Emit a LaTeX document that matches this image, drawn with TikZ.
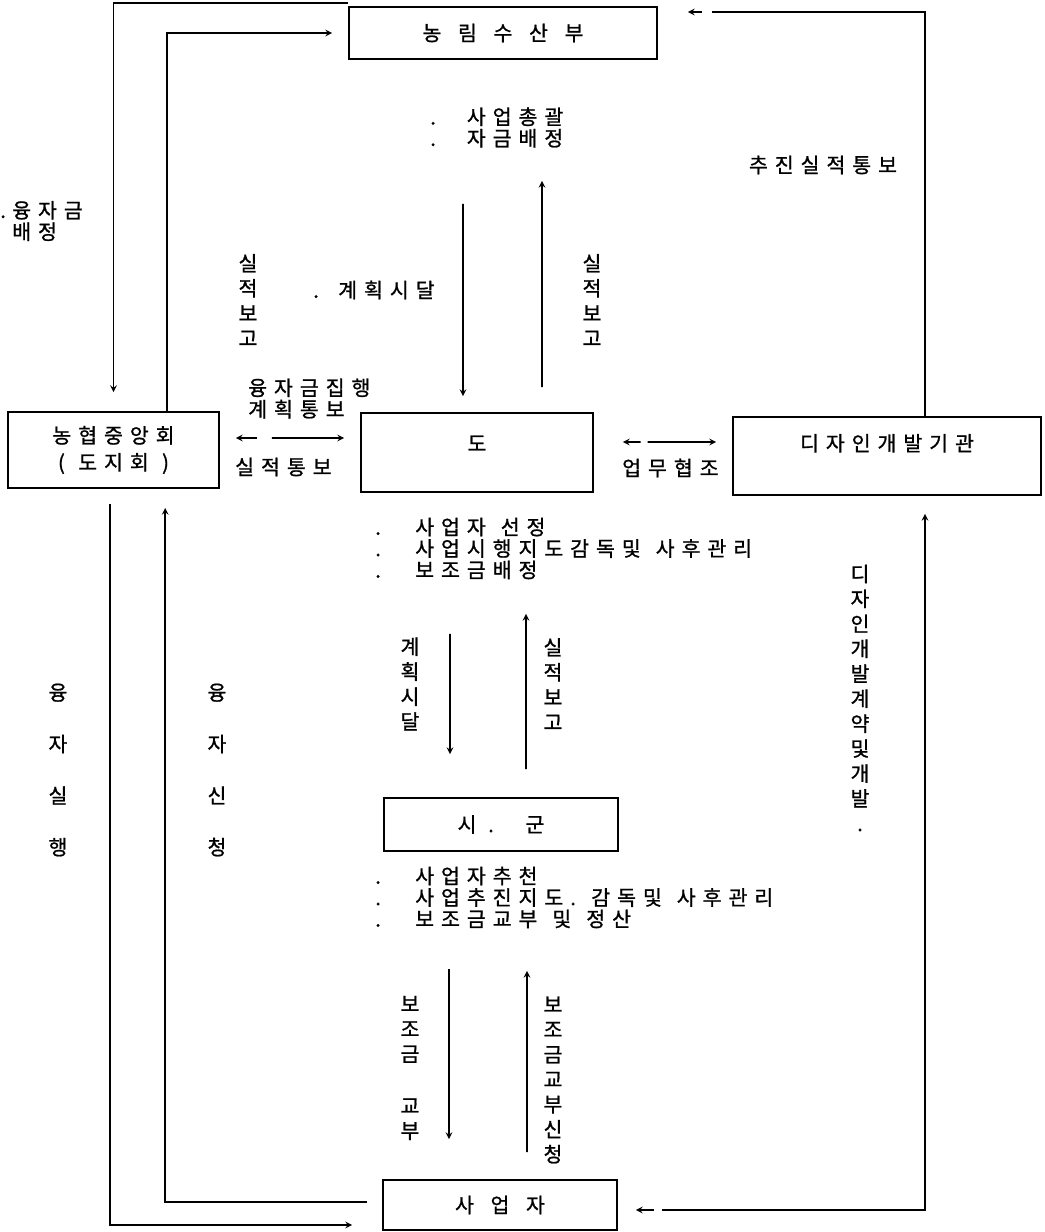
\documentclass[tikz,border=0pt]{standalone}
\usepackage{fontspec}
\setmainfont{Noto Sans CJK KR}[LetterSpace=34, FakeBold=1, Kerning=Off]
\usetikzlibrary{arrows, positioning, calc}
\newcommand{\lbl}{\fontsize{17.5}{18.3}\selectfont}
\newcommand{\blbl}{\fontsize{17.5}{23}\selectfont}
\newcommand{\vlbl}{\fontsize{17.5}{21.3}\selectfont}
\newcommand{\wlbl}{\fontsize{17.5}{44}\selectfont}
\newcommand{\bul}[1]{\makebox[#1][l]{.}}
\newcommand{\bgap}{\hspace{0.5cm}}
\newcommand{\wsp}{\hspace{0.45cm}}

\begin{document}
\begin{tikzpicture}[
    x=0.03cm, y=-0.03cm,
    box/.style={rectangle, draw, line width=1.6pt, inner sep=0pt, align=center, font=\blbl},
    txt/.style={inner sep=0pt, align=left, font=\lbl},
    vtxt/.style={inner sep=0pt, align=center, font=\vlbl},
    wtxt/.style={inner sep=0pt, align=center, font=\wlbl},
    arrow/.style={->, >=stealth, line width=1.5pt}
]
\useasboundingbox (0,0) rectangle (1045,1232);

% Boxes
\node[box, minimum width=9.24cm, minimum height=1.56cm] (ministry) at (503,33) {농\bgap 림\bgap 수\bgap 산\bgap 부};
\node[box, minimum width=6.33cm, minimum height=2.28cm] (nhq) at (113.5,450) {농협중앙회\\(\hspace{0.4cm}도지회\hspace{0.4cm})};
\node[box, minimum width=6.96cm, minimum height=2.37cm, text height=1.14cm, text depth=1.23cm] (dogov) at (477,452.5) {도};
\node[box, minimum width=9.24cm, minimum height=2.34cm, text height=1.02cm, text depth=1.32cm] (design) at (887,456) {디자인개발기관};
\node[box, minimum width=7.02cm, minimum height=1.59cm] (sigun) at (501,824.5) {시\hspace{0.35cm}.\hspace{0.95cm}군};
\node[box, minimum width=7.02cm, minimum height=1.5cm] (bizop) at (500,1205) {사\bgap 업\bgap 자};

% Labels round the ministry
\node[txt, anchor=west] (loanalloc) at (0,221) {\bul{0.36cm}융자금\\\hspace{0.36cm}배정};
\node[txt, anchor=west] (minitems) at (430,127.5) {\bul{1.1cm}사업총괄\\\bul{1.1cm}자금배정};
\node[vtxt] (repleft) at (248,300) {실\\적\\보\\고};
\node[txt, anchor=west] (plandown) at (313,290) {\bul{0.75cm}계획시달};
\node[vtxt] (repright) at (592,300) {실\\적\\보\\고};
\node[txt] (progress) at (823,165) {추진실적통보};

% Labels round the province
\node[txt, anchor=west] (loanplan) at (248,398.5) {융자금집행\\계획통보};
\node[txt, anchor=west] (resnote) at (235,467) {실적통보};
\node[txt, anchor=west] (coop) at (622,468) {업무협조};
\node[txt, anchor=west] (doitems) at (375,548.5) {\bul{1.2cm}사업자\wsp 선정\\\bul{1.2cm}사업시행지도감독및\wsp 사후관리\\\bul{1.2cm}보조금배정};
\node[vtxt] (plandown2) at (410,684) {계\\획\\시\\달};
\node[vtxt] (repup2) at (553,684) {실\\적\\보\\고};
\node[vtxt] (contract) at (860,698) {디\\자\\인\\개\\발\\계\\약\\및\\개\\발\\.};

% Labels round the county
\node[txt, anchor=west] (sgitems) at (375,897.5) {\bul{1.2cm}사업자추천\\\bul{1.2cm}사업추진지도. 감독및\wsp 사후관리\\\bul{1.2cm}보조금교부\wsp 및\wsp 정산};
\node[vtxt] (subsidy) at (410,1068) {보\\조\\금\\[0.81cm]교\\부};
\node[vtxt] (subreq) at (553,1080) {보\\조\\금\\교\\부\\신\\청};

% Loans
\node[wtxt] (loanexec) at (58,770) {융\\자\\실\\행};
\node[wtxt] (loanreq) at (217,770) {융\\자\\신\\청};

% Arrows
\draw[arrow, shorten >=0.57cm] ([yshift=0.09cm]ministry.north west) -| (nhq.north);
\draw[arrow, shorten >=0.48cm] ([xshift=1.6cm]nhq.north) |- (ministry.west);
\draw[arrow] ([xshift=-1.2cm, yshift=-4.32cm]ministry.south) -- ([xshift=-0.42cm, yshift=0.48cm]dogov.north);
\draw[arrow] ([xshift=1.95cm, yshift=0.75cm]dogov.north) -- ([xshift=1.17cm, yshift=-3.63cm]ministry.south);
\draw[arrow, <-, dash pattern=on 0.3cm off 0.3cm on 30cm] ([xshift=0.9cm, yshift=0.63cm]ministry.east) -| ([xshift=1.14cm]design.north);
\draw[arrow, <->, dash pattern=on 0.5cm off 0.45cm on 5cm] ([xshift=0.48cm, yshift=0.36cm]nhq.east) -- ([xshift=-0.48cm, yshift=0.435cm]dogov.west);
\draw[arrow, <->, dash pattern=on 0.4cm off 0.21cm on 5cm] ([xshift=0.87cm, yshift=0.315cm]dogov.east) -- ([xshift=-0.48cm, yshift=0.42cm]design.west);
\draw[arrow] ([xshift=-0.81cm, yshift=-4.23cm]dogov.south) -- ([xshift=-1.53cm, yshift=1.29cm]sigun.north);
\draw[arrow] ([xshift=0.75cm, yshift=0.84cm]sigun.north) -- ([xshift=1.47cm, yshift=-3.63cm]dogov.south);
\draw[arrow] ([xshift=-1.56cm, yshift=-3.51cm]sigun.south) -- ([xshift=-1.53cm, yshift=1.2cm]bizop.north);
\draw[arrow] ([xshift=0.81cm, yshift=0.81cm]bizop.north) -- ([xshift=0.78cm, yshift=-3.57cm]sigun.south);
\draw[arrow, <->, dash pattern=on 0.4cm off 0.25cm on 40cm] ([xshift=0.54cm, yshift=-0.15cm]bizop.east) -| ([xshift=1.14cm, yshift=-0.54cm]design.south);
\draw[arrow] ([xshift=-0.1cm, yshift=-0.45cm]nhq.south) |- ([xshift=-0.9cm, yshift=-0.6cm]bizop.west);
\draw[arrow] ([xshift=-0.45cm, yshift=0.09cm]bizop.west) -| ([xshift=1.55cm, yshift=-0.57cm]nhq.south);

\end{tikzpicture}
\end{document}
